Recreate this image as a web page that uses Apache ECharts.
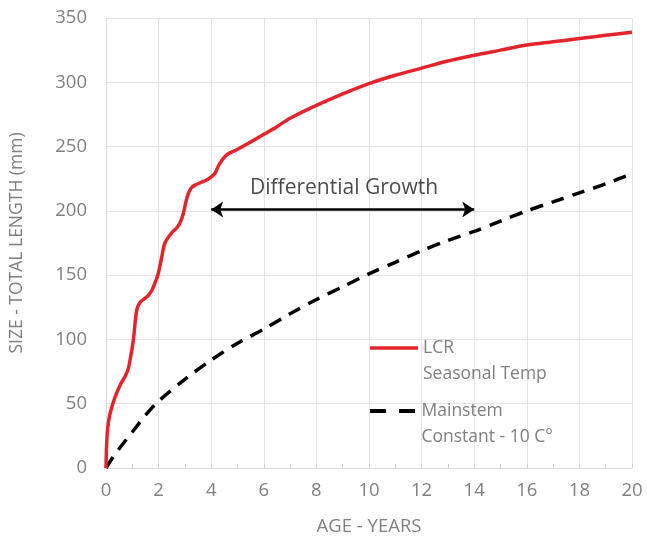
<!DOCTYPE html>
<html><head><meta charset="utf-8">
<script src="https://cdn.jsdelivr.net/npm/echarts@6/dist/echarts.min.js"></script>
<style>html,body{margin:0;padding:0;background:#fff}#c{width:647px;height:537px}</style>
</head><body><div id="c"></div>
<script>
// LCR - Seasonal Temp
const lcrAge = [0, 0.02, 0.06, 0.15, 0.34, 0.55, 0.72, 0.85, 0.95, 1.04, 1.17, 1.3, 1.42, 1.6, 1.74, 1.9, 1.99, 2.12, 2.24, 2.5, 2.7, 2.81, 2.94, 3.05, 3.13, 3.25, 3.38, 3.6, 3.83, 4.0, 4.14, 4.3, 4.59, 4.97, 5.5, 6.0, 6.5, 7.0, 8.0, 9.0, 10.0, 11.0, 12.0, 13.0, 14.0, 15.0, 16.0, 17.0, 18.0, 19.0, 20.0];
const lcrLen = [0, 16, 30, 42, 55, 65, 71, 77.5, 88, 99.5, 123, 129, 131, 134, 138, 146, 151.5, 164, 175, 183, 187, 190.5, 198, 208, 213.5, 218, 220, 222, 224, 226.5, 229, 236, 243.5, 247.5, 253.5, 259.5, 265.5, 272, 282, 291, 299, 305.5, 311, 316.5, 321, 325, 329, 331.5, 334, 336.5, 339];
// Mainstem - Constant 10 C
const msAge = [0, 0.25, 0.5, 1, 1.5, 2, 3, 4, 5, 6, 7, 8, 9, 10, 11, 12, 13, 14, 15, 16, 17, 18, 19, 20];
const msLen = [0, 8, 15, 28, 41, 52, 69, 84, 97, 108, 120, 131, 141, 151, 160, 169, 177, 184, 192, 200, 207, 214, 221, 229];
const seriesNames = ['LCR\nSeasonal Temp', 'Mainstem\nConstant - 10 C°'];
// annotation
const arrowFrom = [4, 201];
const arrowTo = [14, 201];
const noteText = 'Differential Growth';
const notePos = [9.05, 218];
const xTicks = [0, 2, 4, 6, 8, 10, 12, 14, 16, 18, 20];
const yTicks = [0, 50, 100, 150, 200, 250, 300, 350];

const FONT = 'Open Sans';
const GREY = '#7f7f7f';
const chart = echarts.init(document.getElementById('c'), null, {renderer: 'canvas'});
const zip = (a, b) => a.map((v, i) => [v, b[i]]);
const legendText = {fontFamily: FONT, fontSize: 17.5, color: GREY, lineHeight: 26};
const legendBase = {left: 370, padding: 0, orient: 'vertical', itemWidth: 48, itemHeight: 4, itemGap: 0,
  textStyle: legendText, selectedMode: false, formatter: n => '\n' + n};
chart.setOption({
  animation: false,
  grid: {left: 106, right: 15, top: 18, bottom: 69, containLabel: false, outerBoundsMode: 'none'},
  legend: [
    Object.assign({}, legendBase, {top: 309, data: [{name: seriesNames[0], icon: 'path://M0,0h48v3.5h-48z'}]}),
    Object.assign({}, legendBase, {top: 372, data: [{name: seriesNames[1], icon: 'path://M0,0h16v4h-16z M29,0h16v4h-16z'}]})
  ],
  xAxis: {
    type: 'value', min: xTicks[0], max: xTicks[xTicks.length - 1], interval: 2,
    name: 'AGE - YEARS', nameLocation: 'middle', nameGap: 49,
    nameTextStyle: {fontFamily: FONT, fontSize: 18.5, color: GREY},
    axisLine: {show: true, lineStyle: {color: '#d9d9d9', width: 1}},
    axisTick: {show: true, inside: true, length: 4, lineStyle: {color: '#d0d0d0'}},
    minorTick: {show: true, splitNumber: 2, length: 4, lineStyle: {color: '#c8c8c8'}},
    axisLabel: {fontFamily: FONT, fontSize: 18.5, color: GREY, margin: 13},
    splitLine: {show: true, lineStyle: {color: '#e3e3e3', width: 1}}
  },
  yAxis: {
    type: 'value', min: yTicks[0], max: yTicks[yTicks.length - 1], interval: 50,
    name: 'SIZE - TOTAL LENGTH (mm)', nameLocation: 'middle', nameGap: 80,
    nameTextStyle: {fontFamily: FONT, fontSize: 17.5, color: GREY},
    axisLine: {show: true, lineStyle: {color: '#d9d9d9', width: 1}},
    axisTick: {show: false},
    axisLabel: {fontFamily: FONT, fontSize: 18.5, color: GREY, margin: 19},
    splitLine: {show: true, lineStyle: {color: '#e3e3e3', width: 1}}
  },
  series: [
    {name: seriesNames[0], type: 'line', data: zip(lcrAge, lcrLen), showSymbol: false, symbol: 'none', smooth: 0.3,
     lineStyle: {color: '#e3242b', width: 3.5}, itemStyle: {color: '#e3242b'}, z: 5},
    {name: seriesNames[1], type: 'line', data: zip(msAge, msLen), showSymbol: false, symbol: 'none', smooth: 0.3,
     lineStyle: {color: '#000', width: 3.5, type: [13, 9]}, itemStyle: {color: '#000'}, z: 4},
    {type: 'lines', coordinateSystem: 'cartesian2d', polyline: false,
     data: [{coords: [arrowFrom, arrowTo]}], symbol: ['arrow', 'arrow'], symbolSize: 12,
     lineStyle: {color: '#000', width: 2.5, opacity: 1}, z: 6},
    {type: 'scatter', data: [{value: notePos, name: noteText}], symbolSize: 0, silent: true,
     label: {show: true, position: 'inside', formatter: '{b}', fontFamily: FONT, fontSize: 21, color: '#1a1a1a'}, z: 6}
  ]
});
</script></body></html>
